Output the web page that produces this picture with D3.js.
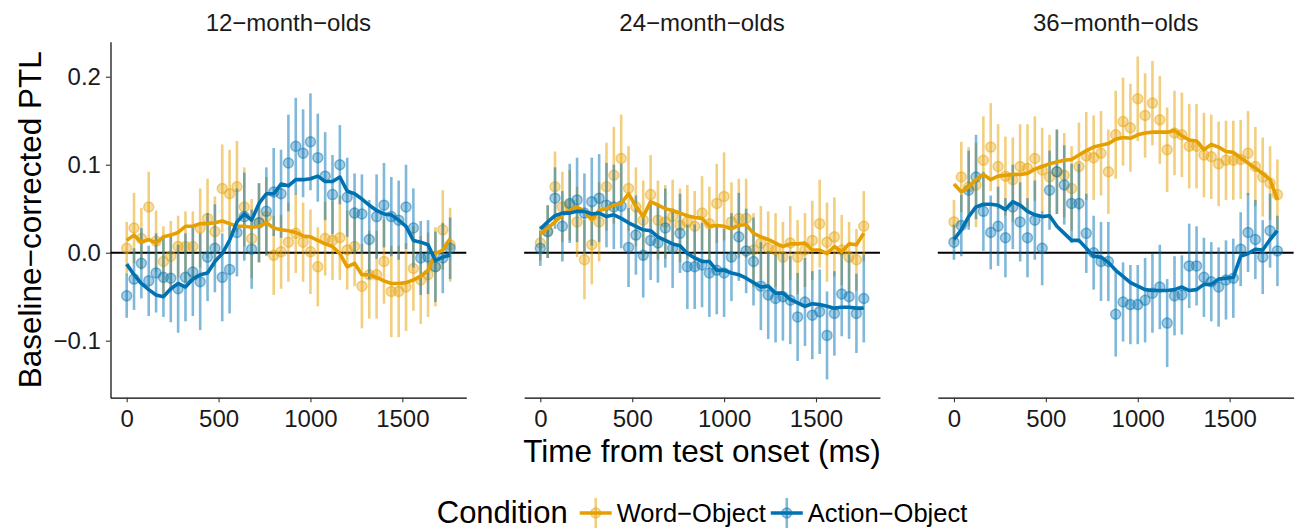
<!DOCTYPE html>
<html>
<head>
<meta charset="utf-8">
<script src="https://cdn.jsdelivr.net/npm/d3@7"></script>
<style>
  body { margin: 0; background: #fff; }
  text { font-family: "Liberation Sans", Arial, Helvetica, sans-serif; }
</style>
</head>
<body>
<svg id="chart" width="1300" height="531"></svg>
<script>
const panels = ["12−month−olds", "24−month−olds", "36−month−olds"];
const conditions = ["Word−Object", "Action−Object"];
const condColors = ["#E69F00", "#0072B2"];
const timeBins = d3.range(0, 1761, 40);
const xTicks = [0, 500, 1000, 1500];
const yTicks = [-0.1, 0, 0.1, 0.2];

// mean PTL per 40 ms bin
const word12 = [0.005, 0.028, 0.016, 0.052, 0.013, -0.010, -0.004, 0.007, 0.007, 0.007, 0.028, 0.039, 0.024, 0.073, 0.067, 0.075, 0.052, 0.016, 0.034, 0.041, -0.003, 0.001, 0.012, 0.022, 0.012, 0.001, -0.016, 0.016, 0.014, 0.017, 0.003, 0.007, -0.038, -0.025, -0.025, -0.010, -0.044, -0.044, -0.039, -0.018, -0.031, -0.025, -0.016, 0.026, 0.009];
const action12 = [-0.049, -0.030, -0.012, -0.032, -0.023, -0.028, -0.029, -0.041, -0.028, -0.022, -0.033, -0.005, 0.005, -0.028, -0.019, 0.023, 0.041, 0.004, 0.034, 0.047, 0.069, 0.067, 0.102, 0.121, 0.113, 0.126, 0.108, 0.087, 0.066, 0.100, 0.063, 0.045, 0.044, 0.015, 0.041, 0.054, 0.041, 0.037, 0.052, 0.028, -0.006, -0.005, -0.016, -0.006, 0.005];
const word24 = [0.011, 0.024, 0.075, 0.052, 0.054, 0.035, -0.008, 0.009, 0.035, 0.075, 0.088, 0.107, 0.073, 0.052, 0.037, 0.066, 0.037, 0.035, 0.041, 0.031, 0.035, 0.030, 0.045, 0.033, 0.056, 0.064, 0.035, 0.039, 0.039, 0.003, 0.011, 0.005, 0.003, -0.005, 0.011, -0.005, 0.003, 0.014, 0.033, 0.012, 0.018, 0.003, -0.005, -0.008, 0.030];
const action24 = [0.005, 0.024, 0.062, 0.030, 0.056, 0.060, 0.045, 0.058, 0.062, 0.054, 0.052, 0.053, 0.006, 0.020, -0.003, 0.014, 0.011, 0.028, 0.005, 0.022, -0.016, -0.016, -0.014, -0.023, -0.020, -0.023, -0.005, 0.018, 0.002, -0.010, -0.038, -0.048, -0.052, -0.050, -0.054, -0.073, -0.056, -0.071, -0.067, -0.094, -0.069, -0.047, -0.050, -0.069, -0.052];
const word36 = [0.035, 0.086, 0.075, 0.077, 0.105, 0.120, 0.098, 0.087, 0.083, 0.098, 0.096, 0.107, 0.094, 0.086, 0.092, 0.088, 0.073, 0.098, 0.110, 0.108, 0.113, 0.092, 0.134, 0.149, 0.142, 0.175, 0.156, 0.170, 0.151, 0.117, 0.136, 0.134, 0.121, 0.121, 0.111, 0.109, 0.101, 0.105, 0.105, 0.106, 0.113, 0.098, 0.086, 0.079, 0.066];
const action36 = [0.012, 0.031, 0.071, 0.086, 0.047, 0.023, 0.030, 0.017, 0.052, 0.035, 0.017, 0.037, 0.005, 0.071, 0.092, 0.077, 0.056, 0.056, 0.022, 0.000, -0.010, -0.010, -0.070, -0.056, -0.059, -0.059, -0.054, -0.046, -0.039, -0.080, -0.049, -0.048, -0.015, -0.015, -0.028, -0.033, -0.039, -0.031, -0.029, 0.004, 0.023, 0.015, -0.005, 0.025, 0.002];

// error bar half-widths
const word12Err = [0.030, 0.040, 0.035, 0.040, 0.035, 0.040, 0.040, 0.035, 0.040, 0.040, 0.045, 0.045, 0.040, 0.050, 0.050, 0.052, 0.045, 0.045, 0.045, 0.045, 0.045, 0.042, 0.045, 0.045, 0.045, 0.048, 0.045, 0.042, 0.045, 0.048, 0.045, 0.045, 0.048, 0.050, 0.050, 0.048, 0.052, 0.052, 0.050, 0.048, 0.050, 0.048, 0.045, 0.045, 0.042];
const action12Err = [0.025, 0.035, 0.040, 0.040, 0.045, 0.045, 0.050, 0.050, 0.050, 0.050, 0.055, 0.050, 0.050, 0.050, 0.050, 0.050, 0.050, 0.045, 0.045, 0.050, 0.050, 0.050, 0.055, 0.055, 0.050, 0.055, 0.050, 0.050, 0.045, 0.045, 0.045, 0.045, 0.045, 0.045, 0.048, 0.048, 0.045, 0.045, 0.048, 0.045, 0.042, 0.042, 0.040, 0.040, 0.035];
const word24Err = [0.020, 0.030, 0.040, 0.040, 0.040, 0.040, 0.045, 0.045, 0.045, 0.050, 0.055, 0.050, 0.048, 0.045, 0.045, 0.045, 0.045, 0.042, 0.042, 0.042, 0.042, 0.040, 0.042, 0.042, 0.045, 0.050, 0.045, 0.045, 0.045, 0.042, 0.042, 0.042, 0.042, 0.040, 0.042, 0.042, 0.042, 0.045, 0.050, 0.045, 0.045, 0.040, 0.040, 0.035, 0.040];
const action24Err = [0.020, 0.030, 0.035, 0.040, 0.045, 0.048, 0.045, 0.050, 0.050, 0.048, 0.048, 0.048, 0.045, 0.045, 0.048, 0.045, 0.045, 0.045, 0.045, 0.045, 0.048, 0.048, 0.048, 0.050, 0.050, 0.050, 0.050, 0.050, 0.048, 0.050, 0.050, 0.050, 0.050, 0.050, 0.050, 0.050, 0.050, 0.050, 0.048, 0.050, 0.048, 0.048, 0.048, 0.045, 0.050];
const word36Err = [0.025, 0.040, 0.045, 0.048, 0.050, 0.050, 0.048, 0.045, 0.048, 0.048, 0.050, 0.048, 0.048, 0.048, 0.048, 0.048, 0.048, 0.050, 0.050, 0.048, 0.048, 0.048, 0.050, 0.050, 0.050, 0.048, 0.048, 0.048, 0.050, 0.048, 0.048, 0.048, 0.048, 0.048, 0.048, 0.048, 0.048, 0.045, 0.045, 0.045, 0.048, 0.045, 0.045, 0.042, 0.040];
const action36Err = [0.020, 0.035, 0.045, 0.048, 0.045, 0.042, 0.045, 0.045, 0.048, 0.045, 0.045, 0.045, 0.042, 0.045, 0.048, 0.045, 0.045, 0.045, 0.045, 0.042, 0.045, 0.045, 0.048, 0.045, 0.045, 0.045, 0.048, 0.045, 0.048, 0.050, 0.045, 0.045, 0.048, 0.045, 0.045, 0.045, 0.045, 0.045, 0.045, 0.042, 0.045, 0.045, 0.042, 0.042, 0.040];

// smoothed trend
const word12Fit = [0.014, 0.020, 0.012, 0.015, 0.011, 0.018, 0.020, 0.023, 0.030, 0.030, 0.033, 0.033, 0.034, 0.036, 0.033, 0.030, 0.030, 0.029, 0.030, 0.034, 0.028, 0.026, 0.025, 0.023, 0.019, 0.018, 0.014, 0.010, 0.007, -0.001, -0.016, -0.012, -0.025, -0.025, -0.028, -0.032, -0.035, -0.035, -0.034, -0.031, -0.027, -0.020, -0.001, 0.003, 0.016];
const action12Fit = [-0.013, -0.025, -0.035, -0.042, -0.048, -0.050, -0.041, -0.035, -0.039, -0.030, -0.025, -0.023, -0.010, -0.001, 0.014, 0.035, 0.044, 0.037, 0.056, 0.067, 0.067, 0.078, 0.076, 0.083, 0.083, 0.084, 0.087, 0.081, 0.081, 0.086, 0.070, 0.067, 0.061, 0.054, 0.048, 0.044, 0.043, 0.037, 0.030, 0.014, 0.012, 0.009, -0.009, -0.005, -0.003];
const word24Fit = [0.021, 0.028, 0.035, 0.043, 0.048, 0.052, 0.047, 0.037, 0.048, 0.050, 0.054, 0.056, 0.067, 0.053, 0.041, 0.058, 0.054, 0.050, 0.048, 0.045, 0.042, 0.040, 0.039, 0.030, 0.031, 0.030, 0.027, 0.031, 0.032, 0.022, 0.018, 0.015, 0.011, 0.007, 0.010, 0.010, 0.011, 0.003, 0.003, -0.001, 0.007, 0.001, 0.010, 0.009, 0.022];
const action24Fit = [0.027, 0.035, 0.042, 0.045, 0.045, 0.047, 0.047, 0.044, 0.045, 0.041, 0.043, 0.039, 0.034, 0.030, 0.026, 0.025, 0.018, 0.014, 0.010, 0.008, -0.001, -0.006, -0.010, -0.010, -0.020, -0.020, -0.023, -0.025, -0.029, -0.034, -0.039, -0.038, -0.046, -0.046, -0.053, -0.057, -0.061, -0.058, -0.059, -0.061, -0.063, -0.062, -0.062, -0.063, -0.063];
const word36Fit = [0.078, 0.069, 0.075, 0.083, 0.089, 0.083, 0.087, 0.088, 0.089, 0.089, 0.090, 0.095, 0.098, 0.101, 0.103, 0.105, 0.106, 0.111, 0.116, 0.120, 0.122, 0.124, 0.129, 0.131, 0.130, 0.134, 0.136, 0.137, 0.137, 0.137, 0.139, 0.133, 0.128, 0.127, 0.117, 0.123, 0.120, 0.115, 0.114, 0.108, 0.102, 0.096, 0.090, 0.083, 0.060];
const action36Fit = [0.015, 0.026, 0.041, 0.052, 0.055, 0.055, 0.054, 0.049, 0.058, 0.054, 0.047, 0.043, 0.041, 0.042, 0.030, 0.022, 0.014, 0.014, 0.005, -0.004, -0.005, -0.011, -0.020, -0.027, -0.034, -0.038, -0.042, -0.043, -0.043, -0.043, -0.042, -0.039, -0.043, -0.042, -0.036, -0.036, -0.030, -0.029, -0.028, -0.004, -0.001, 0.004, 0.003, 0.015, 0.025];

const panelData = [
  [[word12, word12Err, word12Fit], [action12, action12Err, action12Fit]],
  [[word24, word24Err, word24Fit], [action24, action24Err, action24Fit]],
  [[word36, word36Err, word36Fit], [action36, action36Err, action36Fit]],
];

const svg = d3.select("#chart");
const panelLeft = 110.5, panelStep = 413.65, panelW = 355.8;
const plotTop = 41.7, plotBottom = 397.7;

const x = d3.scaleLinear().domain([-88, 1848]).range([0, panelW]);
const y = d3.scaleLinear().domain([-0.1648, 0.2398]).range([plotBottom, plotTop]);

const line = d3.line()
  .x((d) => x(d.t))
  .y((d) => y(d.v));

panels.forEach((label, k) => {
  const g = svg.append("g").attr("transform", `translate(${panelLeft + k * panelStep},0)`);

  // zero reference
  g.append("line")
    .attr("x1", 0).attr("x2", panelW)
    .attr("y1", y(0)).attr("y2", y(0))
    .attr("stroke", "#000").attr("stroke-width", 1.9);

  panelData[k].forEach(([means, errs], c) => {
    const pts = timeBins.map((t, i) => ({ t, v: means[i], e: errs[i] }));
    const grp = g.append("g");
    grp.selectAll("line")
      .data(pts)
      .enter()
      .append("line")
      .attr("x1", (d) => x(d.t)).attr("x2", (d) => x(d.t))
      .attr("y1", (d) => y(d.v - d.e)).attr("y2", (d) => y(d.v + d.e))
      .attr("stroke", condColors[c]).attr("stroke-opacity", 0.5)
      .attr("stroke-width", 2.6);
    grp.selectAll("circle")
      .data(pts)
      .enter()
      .append("circle")
      .attr("cx", (d) => x(d.t))
      .attr("cy", (d) => y(d.v))
      .attr("r", 5)
      .attr("fill", condColors[c]).attr("fill-opacity", 0.35)
      .attr("stroke", condColors[c]).attr("stroke-opacity", 0.45)
      .attr("stroke-width", 1.5);
  });

  panelData[k].forEach(([, , fit], c) => {
    g.append("path")
      .datum(timeBins.map((t, i) => ({ t, v: fit[i] })))
      .attr("d", line)
      .attr("fill", "none")
      .attr("stroke", condColors[c])
      .attr("stroke-width", 3.6)
      .attr("stroke-linejoin", "round");
  });

  // x axis
  const xAxis = g.append("g")
    .attr("transform", `translate(0,${plotBottom})`)
    .call(d3.axisBottom(x).tickValues(xTicks).tickFormat(d3.format("d"))
      .tickSize(4.6).tickSizeOuter(0).tickPadding(8));
  xAxis.select(".domain").attr("stroke", "#000").attr("stroke-width", 1.2);
  xAxis.selectAll(".tick line").attr("stroke", "#333").attr("stroke-width", 1.1);
  xAxis.selectAll(".tick text")
    .attr("font-size", 24)
    .attr("fill", "#1a1a1a")
    .attr("font-family", "Liberation Sans, Arial, sans-serif");

  if (k === 0) {
    const yAxis = g.append("g")
      .call(d3.axisLeft(y).tickValues(yTicks).tickFormat(d3.format(".1f"))
        .tickSize(4.6).tickSizeOuter(0).tickPadding(5));
    yAxis.select(".domain").attr("stroke", "#000").attr("stroke-width", 1.2);
    yAxis.selectAll(".tick line").attr("stroke", "#333").attr("stroke-width", 1.1);
    yAxis.selectAll(".tick text")
      .attr("font-size", 24)
      .attr("fill", "#1a1a1a")
      .attr("font-family", "Liberation Sans, Arial, sans-serif");
  }

  // strip label
  g.append("text")
    .attr("x", panelW / 2)
    .attr("y", 31)
    .attr("text-anchor", "middle")
    .attr("font-size", 24)
    .attr("fill", "#1a1a1a")
    .text(label);
});

// axis titles
svg.append("text")
  .attr("x", panelLeft + (2 * panelStep + panelW) / 2)
  .attr("y", 462)
  .attr("text-anchor", "middle")
  .attr("font-size", 31.5)
  .text("Time from test onset (ms)");

svg.append("text")
  .attr("transform", `translate(41,${(plotTop + plotBottom) / 2}) rotate(-90)`)
  .attr("text-anchor", "middle")
  .attr("font-size", 31.5)
  .text("Baseline−corrected PTL");

// legend
const legend = svg.append("g");
const legY = 513, keyW = 34, keyH = 30;
const title = legend.append("text")
  .attr("x", 0).attr("y", legY + 10)
  .attr("font-size", 31)
  .text("Condition");
let cursor = title.node().getComputedTextLength() + 11;
conditions.forEach((name, c) => {
  const key = legend.append("g").attr("transform", `translate(${cursor},${legY})`);
  key.append("line")
    .attr("x1", keyW / 2).attr("x2", keyW / 2)
    .attr("y1", -keyH / 2).attr("y2", keyH / 2)
    .attr("stroke", condColors[c]).attr("stroke-opacity", 0.5).attr("stroke-width", 2.6);
  key.append("circle")
    .attr("cx", keyW / 2).attr("cy", 0).attr("r", 5)
    .attr("fill", condColors[c]).attr("fill-opacity", 0.35)
    .attr("stroke", condColors[c]).attr("stroke-opacity", 0.45).attr("stroke-width", 1.5);
  key.append("line")
    .attr("x1", 1).attr("x2", keyW - 1)
    .attr("y1", 0).attr("y2", 0)
    .attr("stroke", condColors[c]).attr("stroke-width", 3.6);
  const t = legend.append("text")
    .attr("x", cursor + keyW + 4).attr("y", legY + 9)
    .attr("font-size", 25.5)
    .text(name);
  cursor += keyW + 4 + t.node().getComputedTextLength() + 4;
});
const legW = cursor - 4;
legend.attr("transform", `translate(${702 - legW / 2},0)`);
</script>
</body>
</html>
